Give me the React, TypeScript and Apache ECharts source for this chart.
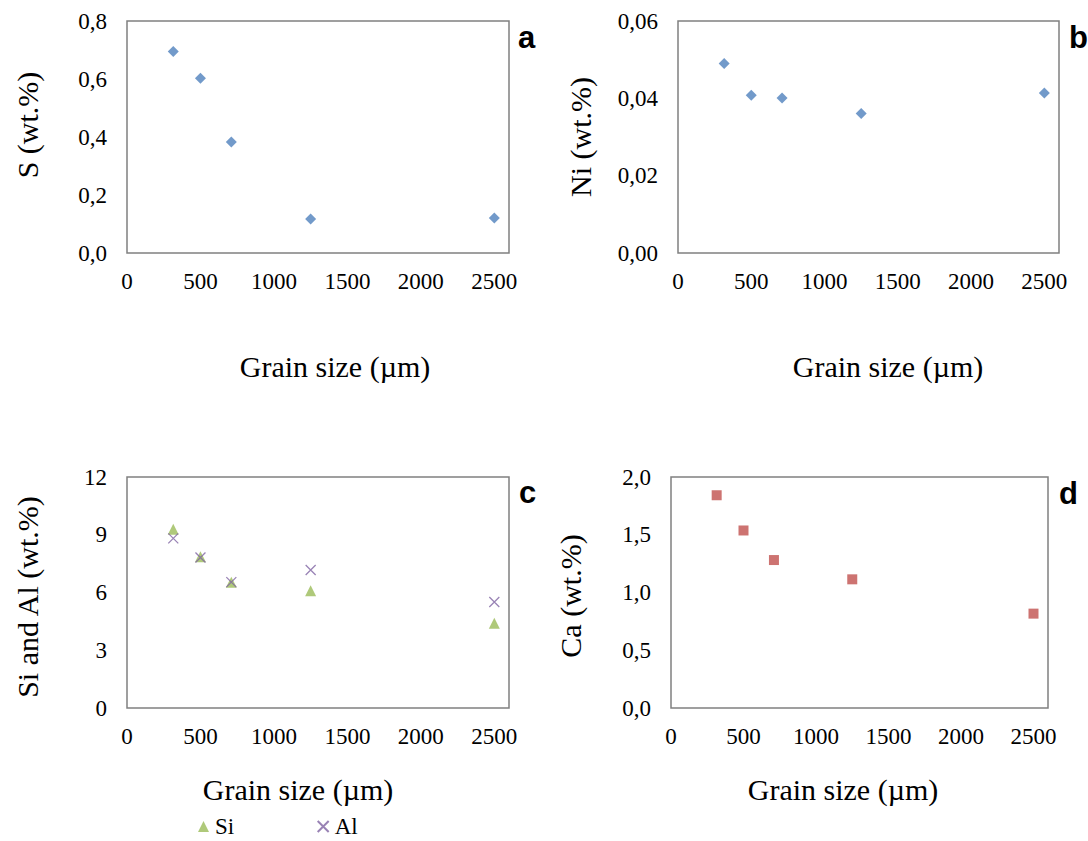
import React, { useEffect, useRef } from "react";
import * as echarts from "echarts";

// Sieve fractions (µm) shared by all four panels
const grainSize = [315, 500, 710, 1250, 2500];

// Element contents per fraction (wt.%)
const sulfur = [0.695, 0.603, 0.383, 0.117, 0.121];
const nickel = [0.049, 0.0408, 0.0401, 0.0361, 0.0414];
const silicon = [9.29, 7.86, 6.53, 6.09, 4.4];
const aluminium = [8.81, 7.82, 6.54, 7.17, 5.51];
const calcium = [1.842, 1.537, 1.281, 1.114, 0.817];

// Axis settings
const xTicks = { min: 0, max: 2600, interval: 500 };
const yS = { min: 0, max: 0.8, interval: 0.2, decimals: 1 };
const yNi = { min: 0, max: 0.06, interval: 0.02, decimals: 2 };
const ySiAl = { min: 0, max: 12, interval: 3, decimals: 0 };
const yCa = { min: 0, max: 2, interval: 0.5, decimals: 1 };

const panelLetters = ["a", "b", "c", "d"];
const yTitles = ["S (wt.%)", "Ni (wt.%)", "Si and Al (wt.%)", "Ca (wt.%)"];
const xTitle = "Grain size (µm)";

const SERIF = "'Liberation Serif', 'Times New Roman', serif";
const SANS = "'Liberation Sans', Arial, sans-serif";

const BLUE = "#4F81BD";
const RED = "#C0504D";
const GREEN = "#9BBB59";
const PURPLE = "#8064A2";

const CROSS = "path://M0,0L10,10M10,0L0,10";

const zip = (xs: number[], ys: number[]) => xs.map((x, i) => [x, ys[i]]);

export default function App() {
  const ref = useRef<HTMLDivElement>(null);

  useEffect(() => {
    if (!ref.current) return;
    const chart = echarts.init(ref.current, undefined, { renderer: "svg" });

    const grids = [
      { left: 127, top: 21, width: 382, height: 232 },
      { left: 678, top: 21, width: 381, height: 232 },
      { left: 127, top: 477, width: 382, height: 231 },
      { left: 671, top: 477, width: 377, height: 231 },
    ].map((g) => ({
      ...g,
      show: true,
      borderColor: "#808080",
      borderWidth: 1.5,
      backgroundColor: "transparent",
      containLabel: false,
    }));

    const xAxes = grids.map((_, i) => ({
      type: "value",
      gridIndex: i,
      ...xTicks,
      axisLine: { show: false },
      axisTick: { show: false },
      splitLine: { show: false },
      axisLabel: {
        margin: 17,
        color: "#000",
        fontFamily: SERIF,
        fontSize: 23,
        showMaxLabel: false,
        formatter: (v: number) => (v % 500 === 0 ? String(v) : ""),
      },
    }));

    const yAxes = [yS, yNi, ySiAl, yCa].map((cfg, i) => ({
      type: "value",
      gridIndex: i,
      min: cfg.min,
      max: cfg.max,
      interval: cfg.interval,
      axisLine: { show: false },
      axisTick: { show: false },
      splitLine: { show: false },
      axisLabel: {
        margin: 20,
        color: "#000",
        fontFamily: SERIF,
        fontSize: 23,
        formatter: (v: number) => v.toFixed(cfg.decimals).replace(".", ","),
      },
    }));

    const xTitlePos = [
      [335, 366],
      [888, 366],
      [298, 789],
      [843, 789],
    ];
    const yTitlePos = [
      [27, 125],
      [580, 137],
      [27, 597],
      [570, 596],
    ];
    const letterPos = [
      [518, 37],
      [1069, 37],
      [519, 492],
      [1059, 493],
    ];

    const graphics: any[] = [];
    xTitlePos.forEach(([x, y]) =>
      graphics.push({
        type: "text",
        x,
        y,
        style: {
          text: xTitle,
          fill: "#000",
          font: `30px ${SERIF}`,
          align: "center",
          verticalAlign: "middle",
        },
      })
    );
    yTitlePos.forEach(([x, y], i) =>
      graphics.push({
        type: "text",
        x,
        y,
        rotation: Math.PI / 2,
        style: {
          text: yTitles[i],
          fill: "#000",
          font: `30px ${SERIF}`,
          align: "center",
          verticalAlign: "middle",
        },
      })
    );
    letterPos.forEach(([x, y], i) =>
      graphics.push({
        type: "text",
        x,
        y,
        style: {
          text: panelLetters[i],
          fill: "#000",
          font: `bold 31px ${SANS}`,
          align: "left",
          verticalAlign: "middle",
        },
      })
    );

    chart.setOption({
      animation: false,
      backgroundColor: "#fff",
      grid: grids,
      xAxis: xAxes,
      yAxis: yAxes,
      legend: {
        data: ["Si", "Al"],
        left: 198,
        top: 815,
        padding: 0,
        itemGap: 81,
        itemWidth: 11,
        itemHeight: 11,
        textStyle: {
          fontFamily: SERIF,
          fontSize: 23,
          lineHeight: 23,
          color: "#000",
          padding: [0, 0, 0, 1],
        },
      },
      series: [
        {
          name: "S",
          type: "scatter",
          xAxisIndex: 0,
          yAxisIndex: 0,
          symbol: "diamond",
          symbolSize: 11,
          itemStyle: { color: BLUE },
          data: zip(grainSize, sulfur),
        },
        {
          name: "Ni",
          type: "scatter",
          xAxisIndex: 1,
          yAxisIndex: 1,
          symbol: "diamond",
          symbolSize: 11,
          itemStyle: { color: BLUE },
          data: zip(grainSize, nickel),
        },
        {
          name: "Si",
          type: "scatter",
          xAxisIndex: 2,
          yAxisIndex: 2,
          symbol: "triangle",
          symbolSize: 11,
          itemStyle: { color: GREEN },
          data: zip(grainSize, silicon),
        },
        {
          name: "Al",
          type: "scatter",
          xAxisIndex: 2,
          yAxisIndex: 2,
          symbol: CROSS,
          symbolSize: 10,
          itemStyle: { color: "none", borderColor: PURPLE, borderWidth: 1.3 },
          data: zip(grainSize, aluminium),
        },
        {
          name: "Ca",
          type: "scatter",
          xAxisIndex: 3,
          yAxisIndex: 3,
          symbol: "rect",
          symbolSize: 10,
          itemStyle: { color: RED },
          data: zip(grainSize, calcium),
        },
      ],
      graphic: graphics,
    });

    return () => chart.dispose();
  }, []);

  return (
    <div
      ref={ref}
      style={{ position: "fixed", left: 0, top: 0, width: 1088, height: 841 }}
    />
  );
}
